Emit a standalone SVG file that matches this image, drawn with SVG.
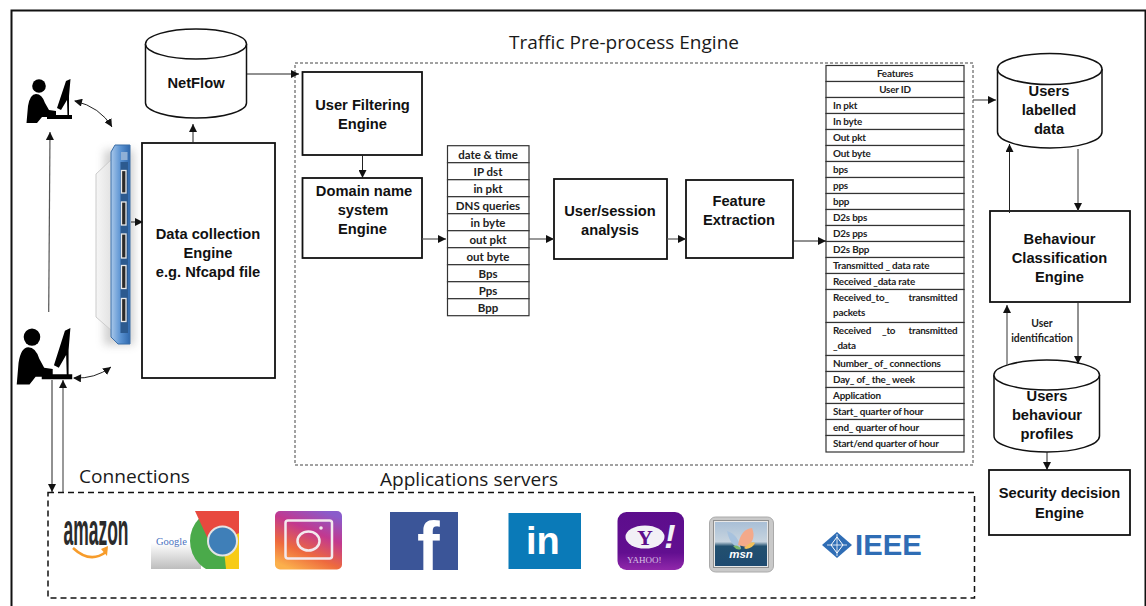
<svg xmlns="http://www.w3.org/2000/svg" width="1146" height="606" viewBox="0 0 1146 606">
<style>
.box{fill:#fff;stroke:#111;stroke-width:1.8}
.cyl{fill:#fff;stroke:#111;stroke-width:1.5}
.b{font-family:"Liberation Sans",Arial,sans-serif;font-weight:700;font-size:14.7px;fill:#111;text-anchor:middle}
.t{font-family:Lato,"Liberation Sans",sans-serif;font-weight:700;font-size:9.9px;letter-spacing:-.2px;fill:#222}
.f{font-size:11.5px;letter-spacing:0}
.l{font-size:10.4px;letter-spacing:0}
.m{text-anchor:middle}
.cell{fill:#fff;stroke:#333;stroke-width:1.2}
.h{font-family:"Open Sans","Noto Sans",sans-serif;font-size:18.3px;fill:#1a1a1a}
.c{fill:none;stroke:#222;stroke-width:1}
.g{stroke:#555;stroke-width:1.2;fill:none}
</style>
<defs>
<marker id="a" markerWidth="9" markerHeight="8" refX="8" refY="4" orient="auto" markerUnits="userSpaceOnUse"><path d="M0,0L8,4L0,8Z" fill="#111"/></marker>
<marker id="as" markerWidth="9" markerHeight="8" refX="1" refY="4" orient="auto" markerUnits="userSpaceOnUse"><path d="M8,0L0,4L8,8Z" fill="#111"/></marker>
<linearGradient id="ig" x1="0.75" y1="0" x2="0.25" y2="1"><stop offset="0" stop-color="#8a5ccb"/><stop offset=".35" stop-color="#c2388f"/><stop offset=".7" stop-color="#ee6a3e"/><stop offset="1" stop-color="#fbb04c"/></linearGradient>
<linearGradient id="gg" x1="0" y1="0" x2="0" y2="1"><stop offset=".1" stop-color="#fff"/><stop offset="1" stop-color="#bdbdbd"/></linearGradient>
<linearGradient id="yg" x1="0" y1="0" x2="0" y2="1"><stop offset="0" stop-color="#5c0d8c"/><stop offset=".7" stop-color="#620f90"/><stop offset="1" stop-color="#9128ab"/></linearGradient>
<linearGradient id="ms" x1="0" y1="0" x2="0" y2="1"><stop offset="0" stop-color="#a9bfd6"/><stop offset=".45" stop-color="#c7d4df"/><stop offset=".55" stop-color="#22506f"/><stop offset="1" stop-color="#1e4a70"/></linearGradient>
<linearGradient id="sw" x1="0" y1="0" x2="1" y2="0"><stop offset="0" stop-color="#a9c8ea"/><stop offset=".5" stop-color="#5b93d2"/><stop offset="1" stop-color="#2f68ad"/></linearGradient>
<linearGradient id="bk" x1="0" y1="0" x2="1" y2="0"><stop offset="0" stop-color="#f6f6f6"/><stop offset="1" stop-color="#e2e2e2"/></linearGradient>
<clipPath id="cc"><rect x="151" y="511" width="88" height="58"/></clipPath>
<clipPath id="fc"><rect x="390" y="512" width="68" height="58"/></clipPath>
<filter id="bl" x="-50%" y="-10%" width="200%" height="120%"><feGaussianBlur stdDeviation="4"/></filter>
<g id="person">
<circle cx="39" cy="86" r="6.800" fill="#000"/>
<path d="M26.500,123L28,106Q30,94 36,94Q42,94 45,103L49,110L56,111L56,115L72,115V119H47V117L42,117L37,123Z" fill="#000"/>
<path d="M70.500,79L69,96L69,116H67.500L67,100L61,110L57,108L66,81Z" fill="#000"/>
</g>
</defs>

<g id="frame"><path d="M11.500,606V10.500H1145.500V606" fill="none" stroke="#111" stroke-width="2"/></g>

<g id="title"><text class="h" x="509" y="49" textLength="230" lengthAdjust="spacingAndGlyphs">Traffic Pre-process Engine</text></g>
<rect id="preprocess-region" x="295" y="63" width="678" height="402" fill="none" stroke="#444" stroke-width="1" stroke-dasharray="3 2"/>

<g id="user-top"><use href="#person"/></g>
<g id="user-bottom"><use href="#person" transform="translate(-15.600,227) scale(1.22,1.28)"/></g>

<g id="switch">
<rect x="104" y="150" width="30" height="195" fill="#999" opacity=".45" filter="url(#bl)"/>
<path d="M112,159L96,174V317L112,331Z" fill="url(#bk)" stroke="#ccc" stroke-width="1"/>
<path d="M115,145H130V344H118L111,337V152Z" fill="url(#sw)" stroke="#3a6ea8" stroke-width="1"/>
<rect x="120.500" y="162" width="7.500" height="171" fill="#2c5a8f"/>
<rect x="121" y="152" width="6.500" height="8" fill="#8fb0d6"/>
<g fill="#2a2a2a" stroke="#e9e9e9" stroke-width="1.300">
<rect x="121.500" y="170.500" width="4.500" height="22.500"/>
<rect x="121.500" y="202" width="4.500" height="23"/>
<rect x="121.500" y="234" width="4.500" height="24"/>
<rect x="121.500" y="265.500" width="4.500" height="23"/>
<rect x="121.500" y="298.500" width="4.500" height="23"/>
</g>
</g>

<g id="netflow">
<path class="cyl" d="M145.500,44V103C145.500,111 168,118 196,118S246.500,111 246.500,103V44"/>
<ellipse class="cyl" cx="196" cy="44" rx="50.500" ry="15"/>
<text class="b" x="196" y="88">NetFlow</text>
</g>
<g id="data-collection">
<rect class="box" x="142" y="143" width="133" height="235"/>
<text class="b" x="208" y="238.500">Data collection</text>
<text class="b" x="208" y="257.500">Engine</text>
<text class="b" x="208" y="276.500">e.g. Nfcapd file</text>
</g>
<g id="user-filtering">
<rect class="box" x="302.500" y="72" width="119.500" height="83"/>
<text class="b" x="362.500" y="110">User Filtering</text>
<text class="b" x="362.500" y="129">Engine</text>
</g>
<g id="dns-engine">
<rect class="box" x="302.500" y="178" width="119.500" height="80"/>
<text class="b" x="364" y="196">Domain name</text>
<text class="b" x="363" y="215">system</text>
<text class="b" x="362.500" y="234">Engine</text>
</g>
<g id="flow-table">
<rect class="cell" x="447.500" y="145.700" width="81.500" height="17"/><text class="t f m" x="488" y="159">date &amp; time</text>
<rect class="cell" x="447.500" y="162.700" width="81.500" height="17"/><text class="t f m" x="488" y="176">IP dst</text>
<rect class="cell" x="447.500" y="179.700" width="81.500" height="17"/><text class="t f m" x="488" y="193">in pkt</text>
<rect class="cell" x="447.500" y="196.700" width="81.500" height="17"/><text class="t f m" x="488" y="210">DNS queries</text>
<rect class="cell" x="447.500" y="213.700" width="81.500" height="17"/><text class="t f m" x="488" y="227">in byte</text>
<rect class="cell" x="447.500" y="230.700" width="81.500" height="17"/><text class="t f m" x="488" y="244">out pkt</text>
<rect class="cell" x="447.500" y="247.700" width="81.500" height="17"/><text class="t f m" x="488" y="261">out byte</text>
<rect class="cell" x="447.500" y="264.700" width="81.500" height="17"/><text class="t f m" x="488" y="278">Bps</text>
<rect class="cell" x="447.500" y="281.700" width="81.500" height="17"/><text class="t f m" x="488" y="295">Pps</text>
<rect class="cell" x="447.500" y="298.700" width="81.500" height="17"/><text class="t f m" x="488" y="312">Bpp</text>
</g>
<g id="user-session">
<rect class="box" x="554" y="179" width="113" height="80"/>
<text class="b" x="610" y="216">User/session</text>
<text class="b" x="610" y="235">analysis</text>
</g>
<g id="feature-extraction">
<rect class="box" x="686" y="180" width="107" height="78"/>
<text class="b" x="739" y="206">Feature</text>
<text class="b" x="739" y="225">Extraction</text>
</g>
<g id="features-table">
<rect class="cell" x="826" y="65.500" width="138" height="16"/><text class="t m" x="895" y="77">Features</text>
<rect class="cell" x="826" y="81.500" width="138" height="16"/><text class="t m" x="895" y="93">User ID</text>
<rect class="cell" x="826" y="97.500" width="138" height="16"/><text class="t" x="833" y="109">In pkt</text>
<rect class="cell" x="826" y="113.500" width="138" height="16"/><text class="t" x="833" y="125">In byte</text>
<rect class="cell" x="826" y="129.500" width="138" height="16"/><text class="t" x="833" y="141">Out pkt</text>
<rect class="cell" x="826" y="145.500" width="138" height="16"/><text class="t" x="833" y="157">Out byte</text>
<rect class="cell" x="826" y="161.500" width="138" height="16"/><text class="t" x="833" y="173">bps</text>
<rect class="cell" x="826" y="177.500" width="138" height="16"/><text class="t" x="833" y="189">pps</text>
<rect class="cell" x="826" y="193.500" width="138" height="16"/><text class="t" x="833" y="205">bpp</text>
<rect class="cell" x="826" y="209.500" width="138" height="16"/><text class="t" x="833" y="221">D2s bps</text>
<rect class="cell" x="826" y="225.500" width="138" height="16"/><text class="t" x="833" y="237">D2s pps</text>
<rect class="cell" x="826" y="241.500" width="138" height="16"/><text class="t" x="833" y="253">D2s Bpp</text>
<rect class="cell" x="826" y="257.500" width="138" height="16"/><text class="t" x="833" y="269">Transmitted _ data rate</text>
<rect class="cell" x="826" y="273.500" width="138" height="16"/><text class="t" x="833" y="285">Received _data rate</text>
<rect class="cell" x="826" y="289.500" width="138" height="33"/><text class="t" x="833" y="301">Received_to_<tspan x="908.500">transmitted</tspan><tspan x="833" y="316">packets</tspan></text>
<rect class="cell" x="826" y="322.500" width="138" height="33"/><text class="t" x="833" y="334">Received<tspan x="882">_to</tspan><tspan x="908.500">transmitted</tspan><tspan x="833" y="349">_data</tspan></text>
<rect class="cell" x="826" y="355.500" width="138" height="16"/><text class="t" x="833" y="366.500">Number_ of_ connections</text>
<rect class="cell" x="826" y="371.500" width="138" height="16"/><text class="t" x="833" y="383">Day_ of_ the_ week</text>
<rect class="cell" x="826" y="387.500" width="138" height="16"/><text class="t" x="833" y="398.500">Application</text>
<rect class="cell" x="826" y="403.500" width="138" height="16"/><text class="t" x="833" y="415">Start_ quarter of hour</text>
<rect class="cell" x="826" y="419.500" width="138" height="16"/><text class="t" x="833" y="431">end_ quarter of hour</text>
<rect class="cell" x="826" y="435.500" width="138" height="16.500"/><text class="t" x="833" y="447">Start/end quarter of hour</text>
</g>
<g id="users-labelled">
<path class="cyl" d="M997.500,69V132C997.500,141 1021,148 1050,148S1102,141 1102,132V69"/>
<ellipse class="cyl" cx="1049.700" cy="69" rx="52.300" ry="15.500"/>
<text class="b" x="1049" y="96">Users</text>
<text class="b" x="1049" y="115">labelled</text>
<text class="b" x="1049" y="134">data</text>
</g>
<g id="behaviour-classification">
<rect class="box" x="990" y="211" width="140" height="91"/>
<text class="b" x="1059.500" y="244">Behaviour</text>
<text class="b" x="1059.500" y="263">Classification</text>
<text class="b" x="1059.500" y="282">Engine</text>
</g>
<g id="users-behaviour">
<path class="cyl" d="M994,375V436C994,445 1018,452 1047,452S1099.500,445 1099.500,436V375"/>
<ellipse class="cyl" cx="1046.700" cy="375" rx="52.800" ry="15"/>
<text class="b" x="1047" y="401">Users</text>
<text class="b" x="1047" y="420">behaviour</text>
<text class="b" x="1047" y="439">profiles</text>
</g>
<g id="security-decision">
<rect class="box" x="989" y="470" width="141" height="65"/>
<text class="b" x="1059.500" y="498">Security decision</text>
<text class="b" x="1059.500" y="517.500">Engine</text>
</g>
<g id="user-identification-label">
<text class="t l m" x="1042" y="327">User</text>
<text class="t l m" x="1042" y="342">identification</text>
</g>

<g id="connectors">
<path class="c" d="M247,74H299" marker-end="url(#a)"/>
<path class="c" d="M193,142V124" marker-end="url(#a)"/>
<path class="c" d="M131,222H143" marker-end="url(#a)"/>
<path class="g" d="M48.700,312L50,132" marker-end="url(#a)"/>
<path class="c" d="M75,101Q100,107 112,127" marker-start="url(#as)" marker-end="url(#a)"/>
<path class="c" d="M74,378Q95,379 111,367" marker-start="url(#as)" marker-end="url(#a)"/>
<path class="c" d="M52,380V492" marker-end="url(#a)"/>
<path class="g" d="M63,492V380" marker-end="url(#a)"/>
<path class="c" d="M362.500,155V178" marker-end="url(#a)"/>
<path class="g" d="M422,239H446" marker-end="url(#a)"/>
<path class="g" d="M529,239H554" marker-end="url(#a)"/>
<path class="g" d="M667,239H686" marker-end="url(#a)"/>
<path class="c" d="M793,241H826" marker-end="url(#a)"/>
<path class="g" d="M973,100H996" marker-end="url(#a)"/>
<path class="c" d="M1009.500,213V144" marker-end="url(#a)"/>
<path class="g" d="M1078,149V211" marker-end="url(#a)"/>
<path class="c" d="M1078,303V364" marker-end="url(#a)"/>
<path class="g" d="M1007,365V305" marker-end="url(#a)"/>
<path class="c" d="M1047,452V470" marker-end="url(#a)"/>
</g>

<g id="applications-servers">
<text class="h" x="79" y="483" textLength="111" lengthAdjust="spacingAndGlyphs">Connections</text>
<text class="h" x="380" y="486" textLength="178" lengthAdjust="spacingAndGlyphs">Applications servers</text>
<rect x="48" y="492.500" width="926.500" height="105.500" fill="none" stroke="#111" stroke-width="1.500" stroke-dasharray="6 4"/>

<g id="amazon">
<text transform="translate(63.500,545) scale(.397,1)" font-family="'Liberation Sans',sans-serif" font-weight="700" font-size="44" fill="#2b2b2b">amazon</text>
<path d="M73,548Q90,564 106,552" fill="none" stroke="#f79c2b" stroke-width="2.500"/>
<path d="M101,549L108,546L107,556Z" fill="#f79c2b"/>
</g>
<g id="google-chrome">
<rect x="151" y="540" width="50" height="29" fill="url(#gg)"/>
<text x="156" y="545" font-family="'Liberation Serif',serif" font-size="10.500" fill="#4a72c0">Google</text>
<g clip-path="url(#cc)">
<circle cx="222.500" cy="541" r="32.500" fill="#4aaa4a"/>
<path d="M195,511L214,552L239,535V511Z" fill="#e8493f"/>
<path d="M239,533L223,541L226,569H239Z" fill="#f7cb16"/>
<circle cx="222.500" cy="541" r="15.500" fill="#e4e4e4"/>
<circle cx="222.500" cy="541" r="13.500" fill="#3f7fb8"/>
</g>
</g>
<g id="instagram">
<rect x="275" y="511" width="67" height="58.500" rx="5" fill="url(#ig)"/>
<rect x="285.500" y="520.500" width="46.500" height="38" rx="2.500" fill="none" stroke="#f3e9ee" stroke-width="2.500"/>
<ellipse cx="308.500" cy="541" rx="11" ry="9.500" fill="none" stroke="#f3e9ee" stroke-width="2.500"/>
<circle cx="321" cy="528" r="1.800" fill="#f3e9ee"/>
</g>
<g id="facebook">
<rect x="390" y="512" width="68" height="58" fill="#3b5598"/>
<text x="417" y="570" clip-path="url(#fc)" font-family="'Liberation Sans',sans-serif" font-weight="700" font-size="68" fill="#fff">f</text>
</g>
<g id="linkedin">
<rect x="508.500" y="513" width="72.500" height="56" fill="#0a7ab8"/>
<text x="526" y="554" font-family="'Liberation Sans',sans-serif" font-weight="700" font-size="38" fill="#fff">in</text>
</g>
<g id="yahoo">
<rect x="617.500" y="512" width="66.500" height="58" rx="9" fill="url(#yg)"/>
<ellipse cx="645" cy="537" rx="19.500" ry="11.500" fill="#f2f0f6"/>
<text x="645" y="544.500" text-anchor="middle" font-family="'Liberation Serif',serif" font-weight="700" font-size="22" fill="#5c0d8c">Y</text>
<text x="670" y="548" text-anchor="middle" font-family="'Liberation Sans',sans-serif" font-weight="700" font-style="italic" font-size="34" fill="#f2f0f6">!</text>
<text x="627" y="563" font-family="'Liberation Serif',serif" font-size="9" fill="#d9c4e4">YAHOO!</text>
</g>
<g id="msn">
<rect x="709.500" y="517" width="64" height="55" rx="6" fill="#c9c9c9" stroke="#aaa"/>
<rect x="713.500" y="520.500" width="55" height="47" fill="#e8e8e8" stroke="#8f8f8f"/>
<rect x="715" y="522" width="52" height="44" fill="url(#ms)"/>
<path d="M727,531Q738,534 741,549Q730,546 727,531Z" fill="#a7c2de"/>
<path d="M738,545Q741,529 752,528Q757,540 746,547Z" fill="#f3a98a"/>
<path d="M744,548Q752,540 755,543Q753,548 746,549Z" fill="#f2c15c"/>
<path d="M733,546Q738,544 741,549Q737,551 733,546Z" fill="#7cb76a"/>
<text x="741" y="558" text-anchor="middle" font-family="'Liberation Sans',sans-serif" font-weight="700" font-style="italic" font-size="11.500" fill="#fff">msn</text>
</g>
<g id="ieee">
<path d="M837,532L852,545L837,558L822,545Z" fill="#2f6db5"/>
<path d="M837,537L843,545L837,553L831,545Z" fill="none" stroke="#fff" stroke-width="1"/>
<path d="M827,545H847M837,534V556" stroke="#fff" stroke-width=".8"/>
<text x="855" y="555" font-family="'Liberation Sans',sans-serif" font-weight="700" font-size="29.300" fill="#2f6db5">IEEE</text>
</g>
</g>
</svg>
